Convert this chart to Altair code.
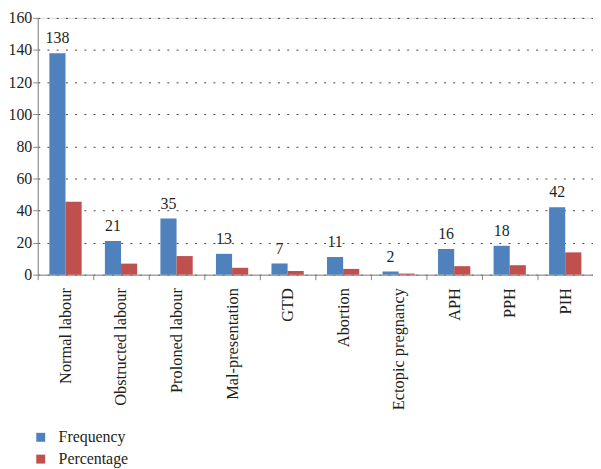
import altair as alt
import pandas as pd

categories = ["Normal labour", "Obstructed labour", "Proloned labour", "Mal-presentation",
              "GTD", "Abortion", "Ectopic pregnancy", "APH", "PPH", "PIH"]
frequency = [138, 21, 35, 13, 7, 11, 2, 16, 18, 42]
percentage = [45.5, 6.9, 11.6, 4.3, 2.3, 3.6, 0.7, 5.3, 5.9, 13.9]
series = ["Frequency", "Percentage"]
colors = ["#4F81BD", "#C0504D"]
y_ticks = [0, 20, 40, 60, 80, 100, 120, 140, 160]

rows = []
for c, f, p in zip(categories, frequency, percentage):
    rows.append({"Category": c, "Series": "Frequency", "Value": f})
    rows.append({"Category": c, "Series": "Percentage", "Value": p})
df = pd.DataFrame(rows)

FONT = "Liberation Serif"
TXT = "#231f20"
AX = "#868686"

x = alt.X("Category:N", sort=categories, title=None,
          scale=alt.Scale(paddingInner=0, paddingOuter=0),
          axis=alt.Axis(labelAngle=270, labelAlign="right", labelBaseline="middle",
                        labelPadding=8, tickBand="extent", tickSize=5,
                        domainColor=AX, tickColor=AX, labelColor=TXT,
                        labelFont=FONT, labelFontSize=16.5, grid=False))
xo = alt.XOffset("Series:N", sort=series,
                 scale=alt.Scale(paddingInner=0, paddingOuter=0.72))
y = alt.Y("Value:Q", title=None,
          scale=alt.Scale(domain=[0, 160], nice=False),
          axis=alt.Axis(values=y_ticks, tickSize=5, labelPadding=1,
                        domainColor=AX, tickColor=AX, labelColor=TXT,
                        labelFont=FONT, labelFontSize=16,
                        grid=True, gridColor="#444444", gridDash=[2, 7.3],
                        gridWidth=1))

bars = alt.Chart(df).mark_bar().encode(
    x=x, xOffset=xo, y=y,
    color=alt.Color("Series:N", sort=series,
                    scale=alt.Scale(domain=series, range=colors),
                    legend=alt.Legend(title=None, orient="none", legendX=-5, legendY=415,
                                      direction="vertical", symbolType="square",
                                      symbolSize=81, symbolStrokeWidth=0,
                                      labelFont=FONT, labelFontSize=16, labelColor=TXT,
                                      labelOffset=10, rowPadding=6)),
)

labels = alt.Chart(df).transform_filter(alt.datum.Series == "Frequency").mark_text(
    font=FONT, fontSize=16, color=TXT, baseline="middle", dy=-15
).encode(x=x, xOffset=xo, y=y, text=alt.Text("Value:Q", format="d"))

chart = alt.layer(bars, labels).properties(
    width=560, height=259,
    padding={"left": 30, "top": 8, "right": 0, "bottom": 194},
    autosize=alt.AutoSizeParams(type="none"),
).configure_view(stroke=None).configure_legend(
    labelFont=FONT, labelFontSize=16, labelColor=TXT
).configure(font=FONT)

chart.save("out.html", embed_options={"renderer": "svg", "actions": False})
